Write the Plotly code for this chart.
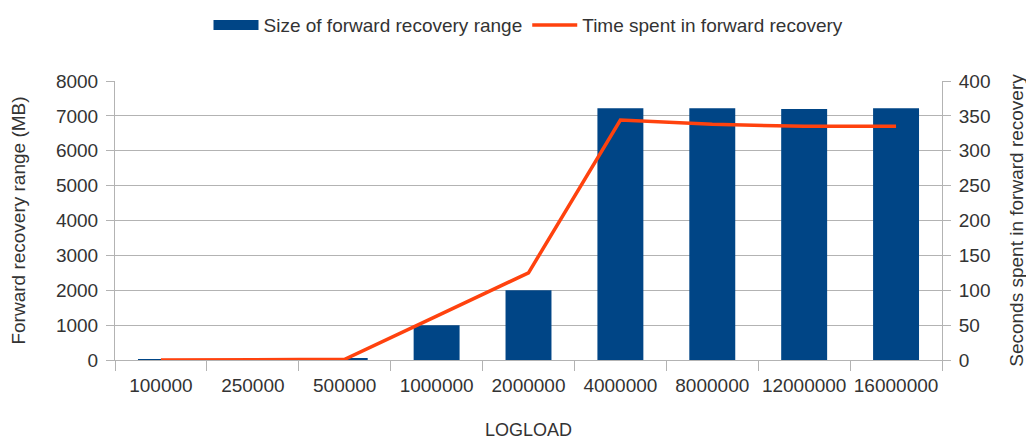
import plotly.graph_objects as go

categories = ["100000", "250000", "500000", "1000000", "2000000", "4000000", "8000000", "12000000", "16000000"]
range_mb = [25, 15, 60, 1000, 2000, 7220, 7220, 7200, 7220]
seconds = [0, 0, 1, 63, 125, 344, 338, 335, 335]

font_family = "Liberation Sans, Arial, sans-serif"
grid = "#b3b3b3"
txt = "#333333"
bar_color = "#004586"
line_color = "#ff420e"
fs = 19

fig = go.Figure()
fig.add_trace(go.Bar(x=categories, y=range_mb, name="Size of forward recovery range",
                     marker=dict(color=bar_color, line=dict(width=0)), yaxis="y",
                     showlegend=False))
# legend entry drawn as a wide block, like the reference's legend key
fig.add_trace(go.Scatter(x=[None], y=[None], name="Size of forward recovery range",
                         mode="lines", line=dict(color=bar_color, width=13), yaxis="y"))
fig.add_trace(go.Scatter(x=categories, y=seconds, name="Time spent in forward recovery",
                         mode="lines", line=dict(color=line_color, width=3.5), yaxis="y2"))

fig.update_layout(
    width=1026, height=432,
    margin=dict(l=107, r=92, t=73, b=80, autoexpand=False),
    paper_bgcolor="white", plot_bgcolor="white",
    font=dict(family=font_family, size=fs, color=txt),
    bargap=0.5,
    showlegend=True,
    legend=dict(orientation="h", x=0.5, xanchor="center", y=1.2, yanchor="middle",
                font=dict(size=fs, color=txt), traceorder="normal", itemwidth=45),
    xaxis=dict(type="category", tickson="boundaries", ticks="outside", ticklen=10,
               tickcolor=grid, showline=True, linecolor=grid, linewidth=1, automargin=False,
               showgrid=False, tickfont=dict(size=fs, color=txt), ticklabelstandoff=8,
               tickangle=0,
               title=dict(text="LOGLOAD", font=dict(size=18, color=txt), standoff=28)),
    yaxis=dict(range=[0, 8000], dtick=1000, showgrid=True, gridcolor=grid, gridwidth=1,
               ticks="outside", ticklen=8, tickcolor=grid, showline=True, linecolor=grid,
               zeroline=False, tickfont=dict(size=fs, color=txt), automargin=False,
               ticklabelstandoff=4,
               title=dict(text="Forward recovery range (MB)", font=dict(size=fs, color=txt), standoff=29)),
    yaxis2=dict(range=[0, 400], dtick=50, overlaying="y", side="right", showgrid=False,
                ticks="outside", ticklen=8, tickcolor=grid, showline=True, linecolor=grid,
                zeroline=False, tickfont=dict(size=fs, color=txt), automargin=False,
                ticklabelstandoff=4,
                title=dict(text="Seconds spent in forward recovery", font=dict(size=fs, color=txt), standoff=20)),
)

fig.write_html("out.html")
